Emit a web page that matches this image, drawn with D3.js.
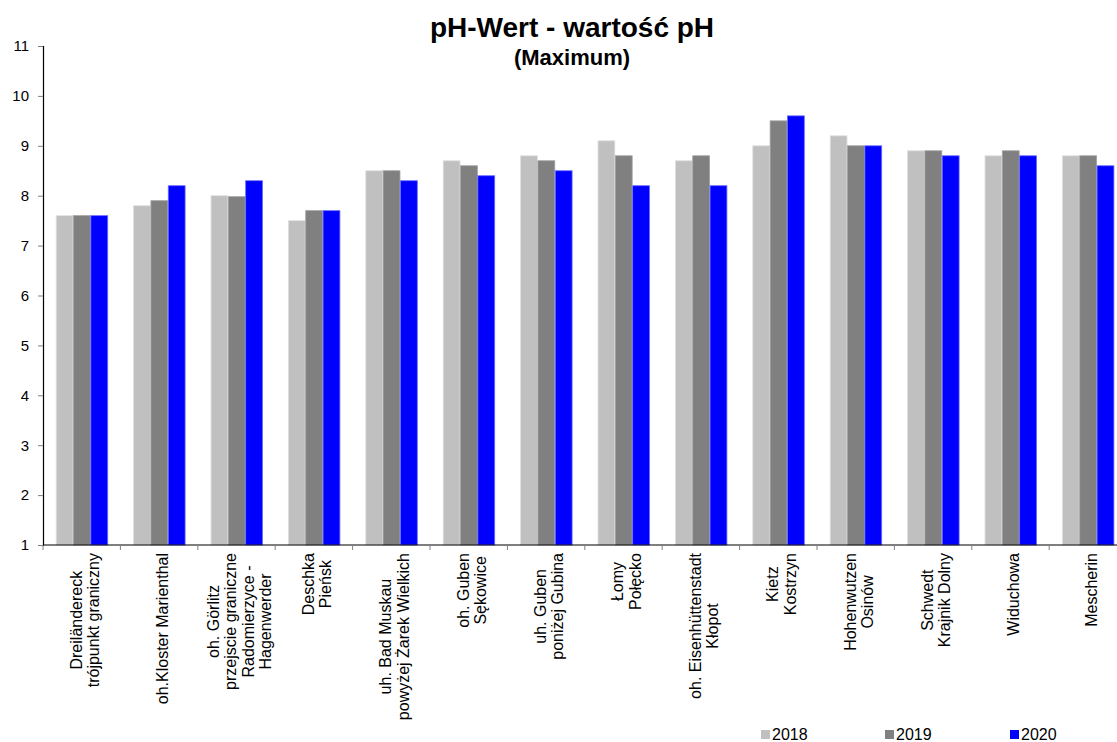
<!DOCTYPE html>
<html>
<head>
<meta charset="utf-8">
<script src="https://cdn.jsdelivr.net/npm/d3@7"></script>
<style>
  html, body { margin: 0; padding: 0; background: #fff; }
  svg { display: block; font-family: 'Liberation Sans', Arial, sans-serif; }
</style>
</head>
<body>
<div id="chart"></div>
<script>
// station labels (line breaks as in the original)
const stations = [
  'Dreiländereck\ntrójpunkt graniczny',
  'oh.Kloster Marienthal',
  'oh. Görlitz\nprzejscie graniczne\nRadomierzyce -\nHagenwerder',
  'Deschka\nPieńsk',
  'uh. Bad Muskau\npowyżej Żarek Wielkich',
  'oh. Guben\nSękowice',
  'uh. Guben\nponiżej Gubina',
  'Łomy\nPołęcko',
  'oh. Eisenhüttenstadt\nKłopot',
  'Kietz\nKostrzyn',
  'Hohenwutzen\nOsinów',
  'Schwedt\nKrajnik Dolny',
  'Widuchowa',
  'Mescherin'
];
const years = ['2018', '2019', '2020'];
const colors = ['#c0c0c0', '#808080', '#0000ff'];
const edge = ['#e0e0e0', '#a0a0a0', '#6a6aff'];

const ph2018 = [7.6, 7.8, 8.0, 7.5, 8.5, 8.7, 8.8, 9.1, 8.7, 9.0, 9.2, 8.9, 8.8, 8.8];
const ph2019 = [7.6, 7.9, 7.98, 7.7, 8.5, 8.6, 8.7, 8.8, 8.8, 9.5, 9.0, 8.9, 8.9, 8.8];
const ph2020 = [7.6, 8.2, 8.3, 7.7, 8.3, 8.4, 8.5, 8.2, 8.2, 9.6, 9.0, 8.8, 8.8, 8.6];
const series = [ph2018, ph2019, ph2020];
const yTicks = [1, 2, 3, 4, 5, 6, 7, 8, 9, 10, 11];

const W = 1117, H = 742;
const mLeft = 43, mTop = 46, mBottom = 545;
const step = 77.4;

const svg = d3.select('#chart').append('svg')
  .attr('width', W).attr('height', H);

const y = d3.scaleLinear().domain([1, 11]).range([mBottom, mTop]);
const x0 = d3.scaleBand().domain(stations)
  .range([mLeft, mLeft + step * stations.length])
  .paddingInner(0.328).paddingOuter(0.164);
const x1 = d3.scaleBand().domain(years).range([0, x0.bandwidth()]);

// title
svg.append('text').text('pH-Wert - wartość pH')
  .attr('x', 572).attr('y', 37).attr('text-anchor', 'middle')
  .attr('font-size', 28).attr('font-weight', 'bold');
svg.append('text').text('(Maximum)')
  .attr('x', 572).attr('y', 65).attr('text-anchor', 'middle')
  .attr('font-size', 22).attr('font-weight', 'bold');

// bars
const groups = svg.append('g').selectAll('g')
  .data(stations).join('g')
  .attr('transform', d => `translate(${x0(d)},0)`);
groups.selectAll('rect')
  .data((d, i) => series.map((s, k) => ({ year: years[k], k, v: s[i] })))
  .join('rect')
  .attr('x', d => x1(d.year) + 0.5)
  .attr('width', x1.bandwidth() - 0.5)
  .attr('y', d => y(d.v))
  .attr('height', d => y(1) - y(d.v))
  .attr('fill', d => colors[d.k])
  .attr('stroke', d => edge[d.k]).attr('stroke-width', 0.8);

// y axis
const yAxis = svg.append('g').attr('transform', `translate(${mLeft},0)`)
  .call(d3.axisLeft(y).tickValues(yTicks).tickSize(5).tickPadding(9).tickFormat(d3.format('d')));
yAxis.select('.domain').attr('stroke', '#000').attr('stroke-width', 1.2);
yAxis.selectAll('.tick line').attr('stroke', '#808080');
yAxis.selectAll('.tick text').attr('font-size', 15).attr('fill', '#000')
  .attr('font-family', "'Liberation Sans', Arial, sans-serif");

// x axis line + ticks at group boundaries
const xAxis = svg.append('g');
xAxis.append('line')
  .attr('x1', mLeft).attr('x2', W).attr('y1', mBottom).attr('y2', mBottom)
  .attr('stroke', '#000').attr('stroke-width', 1.2);
const bounds = d3.range(stations.length + 1).map(i => x0.range()[0] + i * x0.step());
xAxis.selectAll('line.tk').data(bounds).join('line').attr('class', 'tk')
  .attr('x1', d => d).attr('x2', d => d)
  .attr('y1', mBottom).attr('y2', mBottom + 5)
  .attr('stroke', '#808080');

// x labels: rotated, centred lines, block top-aligned under the axis
const lh = 17.5;
stations.forEach(st => {
  const lines = st.split('\n');
  const cx = x0(st) + x0.bandwidth() / 2 + 3;
  const g = svg.append('g');
  const texts = lines.map((ln, j) => g.append('text').text(ln)
    .attr('font-size', 16).attr('text-anchor', 'middle')
    .attr('dy', '0.35em'));
  const maxLen = d3.max(texts, t => t.node().getComputedTextLength());
  const cy = mBottom + 8 + maxLen / 2;
  texts.forEach((t, j) => {
    const off = (j - (lines.length - 1) / 2) * lh;
    t.attr('transform', `translate(${cx + off},${cy}) rotate(-90)`);
  });
});

// legend
const legX = [761, 885, 1010];
const leg = svg.append('g');
years.forEach((yr, k) => {
  leg.append('rect').attr('x', legX[k]).attr('y', 730).attr('width', 9).attr('height', 9)
    .attr('fill', colors[k]);
  leg.append('text').text(yr).attr('x', legX[k] + 11).attr('y', 740)
    .attr('font-size', 16);
});
</script>
</body>
</html>
